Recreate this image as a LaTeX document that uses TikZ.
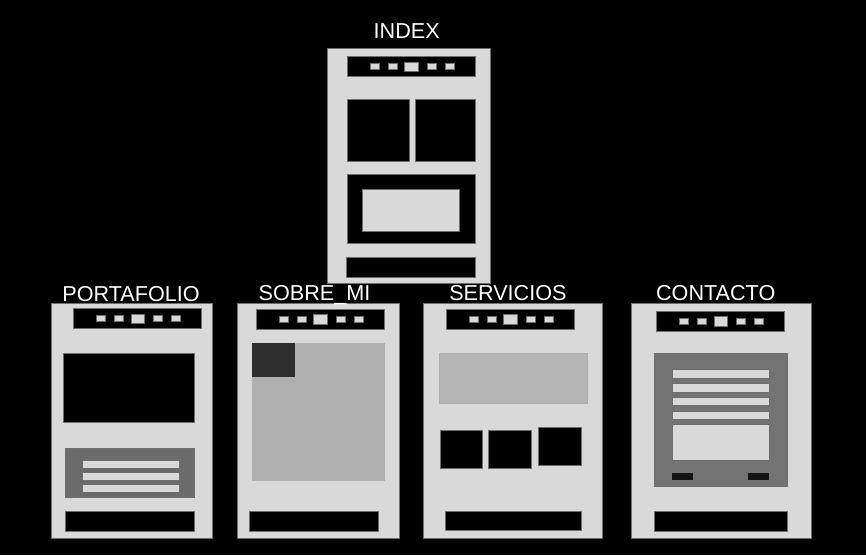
\documentclass[tikz,border=0pt]{standalone}
\usepackage{fontspec}
\setmainfont{Liberation Sans}
\definecolor{pagegray}{HTML}{D9D9D9}
\definecolor{edgegray}{HTML}{6E6E6E}
\definecolor{midgray}{HTML}{6B6B6B}
\definecolor{formgray}{HTML}{737373}
\definecolor{photogray}{HTML}{AFAFAF}
\definecolor{bannergray}{HTML}{B4B4B4}
\definecolor{darkgray}{HTML}{2E2E2E}
\tikzset{
  page/.style={fill=pagegray, draw=edgegray, line width=0.6pt},
  blk/.style={fill=black, draw=edgegray, line width=0.6pt},
  lite/.style={fill=pagegray, draw=edgegray, line width=0.5pt},
  panel/.style={draw=edgegray, line width=0.5pt},
  title/.style={text=white, font=\fontsize{21.6}{24}\selectfont, anchor=base, inner sep=0pt},
}
% navigation bar: left x, top y, width, height
\newcommand{\navbar}[4]{%
  \path[blk] (#1,#2) rectangle ++(#3,#4);
  \pgfmathsetmacro{\cx}{#1+#3/2}
  \pgfmathsetmacro{\cy}{#2+#4/2}
  \path[lite] (\cx-6.7,\cy-4.8) rectangle (\cx+6.7,\cy+4.8);
  \path[lite] (\cx-41.3,\cy-3) rectangle (\cx-32.3,\cy+3);
  \path[lite] (\cx-23,\cy-3) rectangle (\cx-14,\cy+3);
  \path[lite] (\cx+16,\cy-3) rectangle (\cx+25,\cy+3);
  \path[lite] (\cx+34,\cy-3) rectangle (\cx+43,\cy+3);
}
\begin{document}
\begin{tikzpicture}[x=1pt, y=-1pt]
\path[fill=black] (0,0) rectangle (866,555);
\useasboundingbox (0,0) rectangle (866,555);

% ---------- INDEX ----------
\path[page] (327.7,48.7) rectangle (490.3,283.5);
\navbar{347}{56.7}{128.3}{20}
\path[blk] (347,99.7) rectangle (409,161);
\path[blk] (415,99.7) rectangle (475.3,161);
\path[blk] (347,174.3) rectangle (475.3,243.3);
\path[lite] (362.7,189.3) rectangle (459.7,231);
\path[blk] (346.3,257) rectangle (475.3,277.3);
\node[title] (tindex) at (406.7,38.3) {INDEX};

% ---------- PORTAFOLIO ----------
\path[page] (51.3,303.3) rectangle (212.3,538.3);
\navbar{73.3}{308.7}{128.4}{20}
\path[blk] (63.7,353) rectangle (194.3,422.3);
\path[panel, fill=midgray] (65.3,448) rectangle (194.3,497.7);
\path[lite] (82.3,460) rectangle (179.3,468);
\path[lite] (82.3,472) rectangle (179.3,480);
\path[lite] (82.3,484.7) rectangle (179.3,492.7);
\path[blk] (65.3,511) rectangle (194.3,531.3);
\node[title] (tport) at (131,301.3) {PORTAFOLIO};

% ---------- SOBRE_MI ----------
\path[page] (237,303.7) rectangle (399.3,538.3);
\navbar{256.3}{309.3}{128}{20}
\path[fill=photogray, draw=pagegray!80!black, line width=0.4pt] (251.7,342.7) rectangle (384.3,480);
\path[fill=darkgray] (251.7,342.7) rectangle (295,377.3);
\path[blk] (249.3,511) rectangle (378.3,531.3);
\node[title] (tsobre) at (314.5,300.7) {SOBRE\_MI};

% ---------- SERVICIOS ----------
\path[page] (423,303.3) rectangle (602.3,538.3);
\navbar{446.3}{309.3}{128}{20}
\path[fill=bannergray, draw=pagegray!80!black, line width=0.4pt] (438.7,353) rectangle (586.7,403);
\path[blk] (440.3,430.7) rectangle (482.7,468.7);
\path[blk] (488.7,430) rectangle (531.3,468.3);
\path[blk] (538.7,427.7) rectangle (581,465.7);
\path[blk] (445.3,511) rectangle (581,530);
\node[title] (tserv) at (507.9,300.7) {SERVICIOS};

% ---------- CONTACTO ----------
\path[page] (631,303.3) rectangle (811,538.3);
\navbar{656.3}{311.3}{128.4}{20.4}
\path[panel, fill=formgray] (654,353) rectangle (787.3,486.7);
\path[lite] (672.7,369.3) rectangle (769.7,378);
\path[lite] (672,383.7) rectangle (769,392);
\path[lite] (672.7,397) rectangle (769.7,405.7);
\path[lite] (672,411.3) rectangle (769,419.7);
\path[lite] (672,424.7) rectangle (769,460.7);
\path[fill=black!92] (672,473) rectangle (693,480.3);
\path[fill=black!92] (748,473) rectangle (769,480.3);
\path[blk] (654,511) rectangle (787.3,531.3);
\node[title] (tcont) at (715.7,300.7) {CONTACTO};
\end{tikzpicture}
\end{document}
